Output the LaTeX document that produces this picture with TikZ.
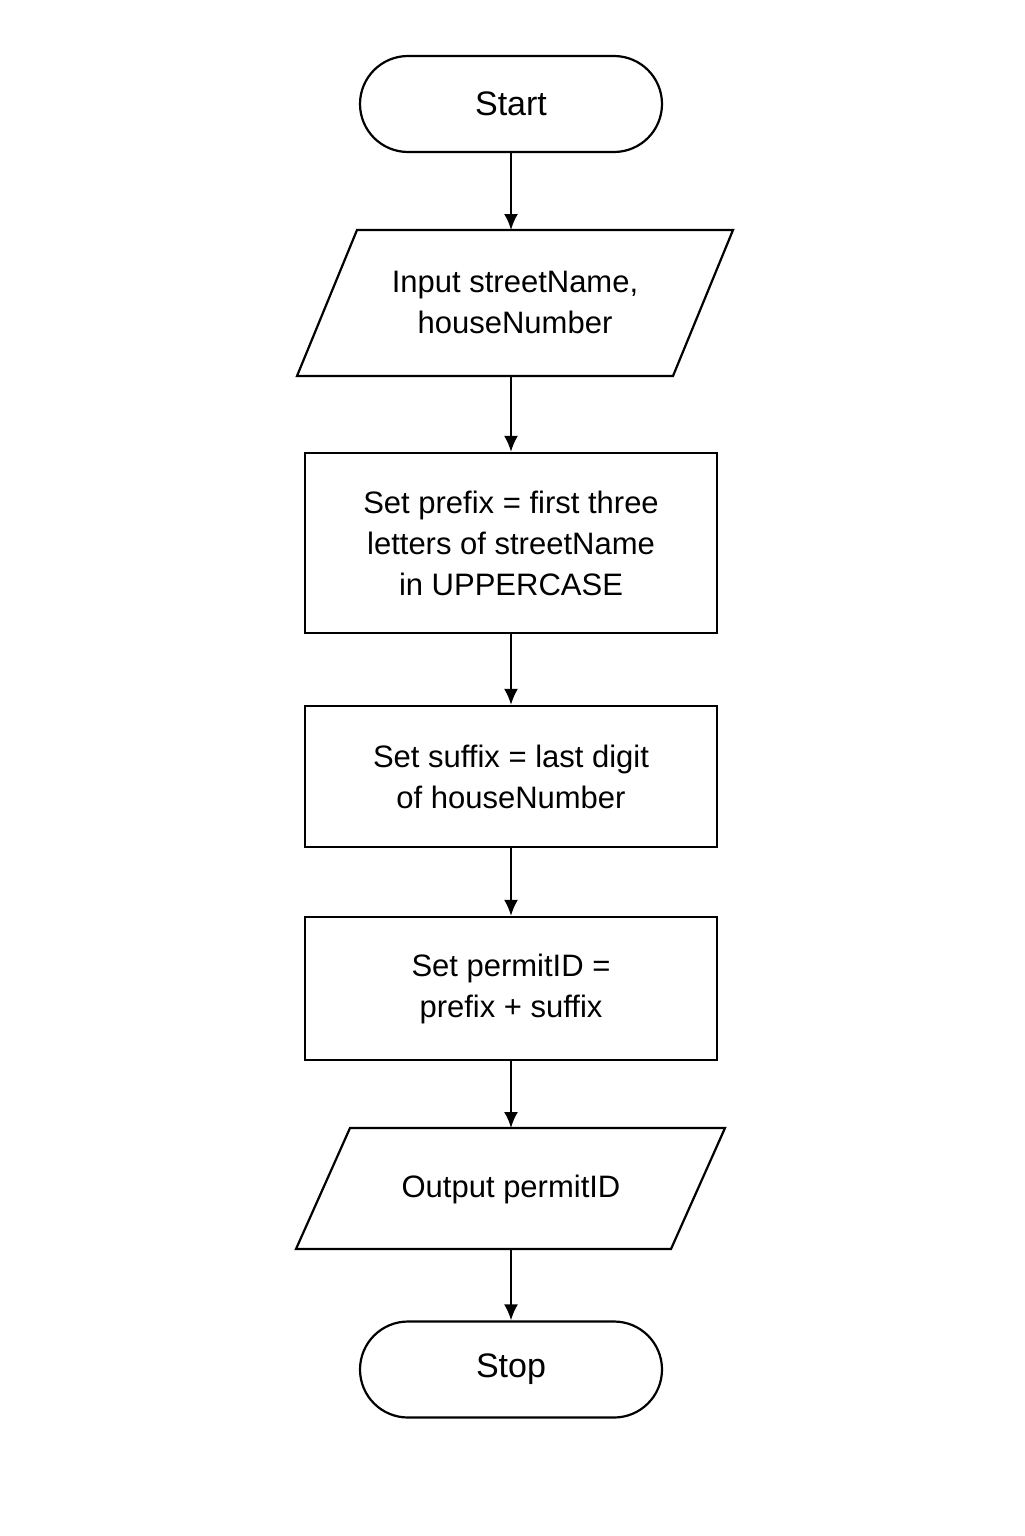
\documentclass[tikz,border=0pt]{standalone}
\usepackage{fontspec}
\setmainfont{Liberation Sans}
\usetikzlibrary{arrows.meta}
\begin{document}
\begin{tikzpicture}[x=0.5pt,y=-0.5pt,
  line/.style={line width=1.1pt},
  arr/.style={line, -{Latex[length=8pt,width=7pt]}},
  txt/.style={align=center,font=\fontsize{15.5pt}{20.5pt}\selectfont},
  term/.style={draw,line,rounded corners=24pt,minimum width=151pt,minimum height=48pt,align=center,font=\fontsize{17pt}{20pt}\selectfont},
  proc/.style={draw,line,minimum width=206pt,txt}]
\useasboundingbox (0,0) rectangle (1024,1536);
\node[term] (start) at (511,104) {Start};
\draw[line] (357,230) -- (733,230) -- (673,376) -- (297,376) -- cycle;
\coordinate (inTop) at (511,230); \coordinate (inBot) at (511,376);
\node[txt] (in) at (515,302) {Input streetName,\\houseNumber};
\node[proc,minimum height=90pt] (p1) at (511,543) {Set prefix = first three\\letters of streetName\\in UPPERCASE};
\node[proc,minimum height=70.5pt] (p2) at (511,776.5) {Set suffix = last digit\\of houseNumber};
\node[proc,minimum height=71.5pt] (p3) at (511,988.5) {Set permitID =\\prefix + suffix};
\draw[line] (350,1128) -- (725,1128) -- (671,1249) -- (296,1249) -- cycle;
\coordinate (outTop) at (511,1128); \coordinate (outBot) at (511,1249);
\node[txt] (out) at (511,1189) {Output permitID};
\node[term] (stop) at (511,1369.5) {Stop};
\draw[arr] (start) -- (inTop);
\draw[arr] (inBot) -- (p1);
\draw[arr] (p1) -- (p2);
\draw[arr] (p2) -- (p3);
\draw[arr] (p3) -- (outTop);
\draw[arr] (outBot) -- (stop);
\end{tikzpicture}
\end{document}
